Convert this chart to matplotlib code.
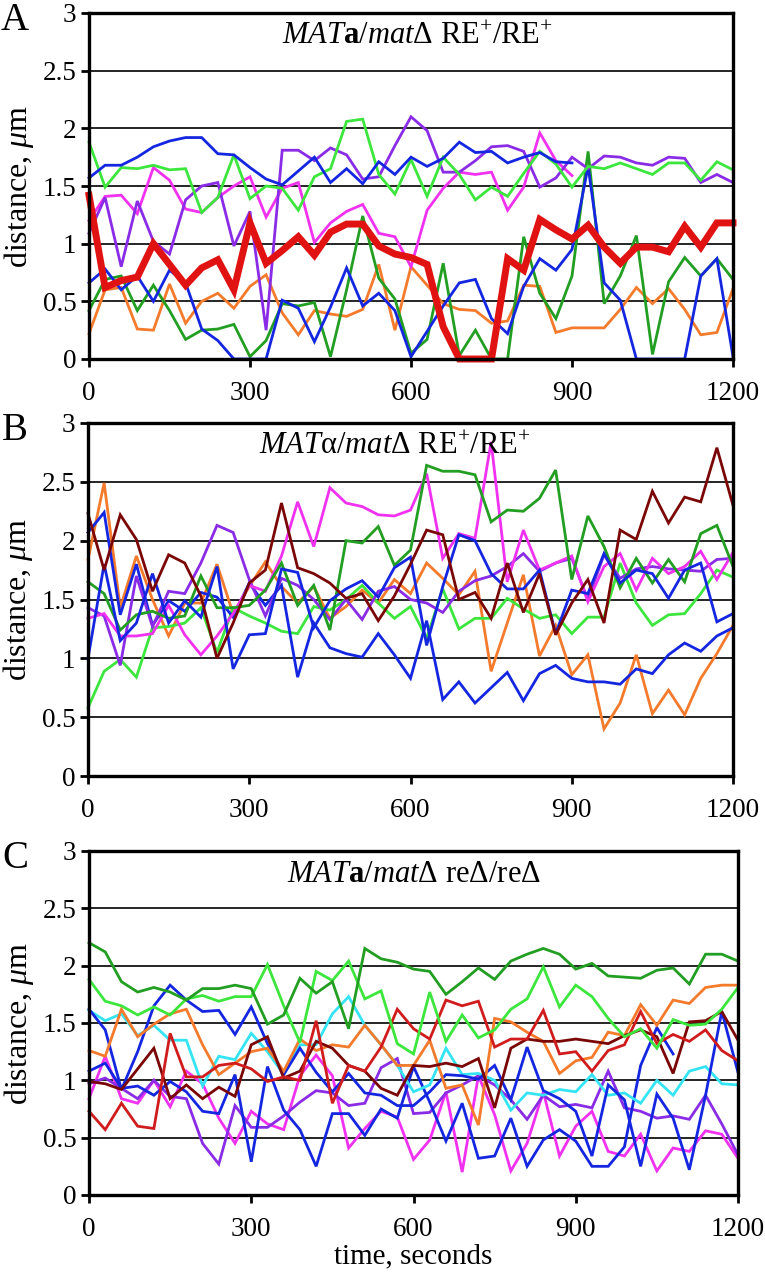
import numpy as np
import matplotlib.pyplot as plt

plt.rcParams['font.family'] = ['Liberation Serif', 'DejaVu Serif']
plt.rcParams['mathtext.fontset'] = 'custom'
plt.rcParams['mathtext.rm'] = 'Liberation Serif'
plt.rcParams['mathtext.it'] = 'Liberation Serif:italic'
plt.rcParams['mathtext.bf'] = 'Liberation Serif:bold'

# --- data: distance (um) sampled every 30 s ---
times = list(range(0, 1201, 30))

# panel A: MATa/matD RE+/RE+
a_blue_hi = [1.57, 1.68, 1.68, 1.75, 1.84, 1.89, 1.92, 1.92, 1.78, 1.77, 1.66, 1.56, 1.51, 1.63, 1.75, 1.53,
             1.65, 1.52, 1.71, 1.60, 1.75, 1.67, 1.74, 1.88, 1.79, 1.80, 1.70, 1.75, 1.79, 1.71, 1.70]
a_lgreen = [1.88, 1.49, 1.66, 1.65, 1.68, 1.64, 1.65, 1.27, 1.40, 1.77, 1.39, 1.50, 1.48, 1.29, 1.58, 1.65,
            2.06, 2.08, 1.60, 1.43, 1.73, 1.41, 1.75, 1.60, 1.38, 1.49, 1.41, 1.61, 1.80, 1.69, 1.49, 1.67,
            1.65, 1.70, 1.65, 1.60, 1.70, 1.70, 1.55, 1.71, 1.64]
a_purple = [1.09, 1.40, 0.80, 1.37, 1.02, 0.91, 1.38, 1.50, 1.53, 0.98, 1.28, 0.25, 1.81, 1.81, 1.72, 1.83,
            1.77, 1.56, 1.58, 1.85, 2.10, 1.98, 1.62, 1.62, 1.72, 1.84, 1.85, 1.80, 1.49, 1.57, 1.75, 1.65,
            1.76, 1.75, 1.70, 1.68, 1.75, 1.74, 1.53, 1.60, 1.53]
a_magenta = [1.20, 1.41, 1.42, 1.26, 1.66, 1.55, 1.30, 1.27, 1.40, 1.50, 1.58, 1.23, 1.48, 1.53, 1.01, 1.18,
             1.28, 1.34, 1.09, 1.06, 0.80, 1.29, 1.48, 1.62, 1.60, 1.62, 1.29, 1.49, 1.96, 1.72, 1.59]
a_red = [1.42, 0.62, 0.68, 0.71, 1.00, 0.82, 0.64, 0.79, 0.86, 0.60, 1.18, 0.83, 0.94, 1.06, 0.90, 1.10,
         1.17, 1.17, 0.98, 0.91, 0.88, 0.82, 0.28, 0.00, 0.00, 0.00, 0.87, 0.77, 1.21, 1.12, 1.04, 1.16,
         0.97, 0.83, 0.97, 0.97, 0.93, 1.15, 0.97, 1.18, 1.18]
a_orange = [0.22, 0.60, 0.62, 0.26, 0.25, 0.65, 0.31, 0.50, 0.57, 0.44, 0.63, 0.73, 0.40, 0.21, 0.42, 0.39,
            0.37, 0.43, 0.82, 0.25, 0.80, 0.64, 0.48, 0.43, 0.42, 0.31, 0.33, 0.64, 0.63, 0.23, 0.27, 0.27,
            0.27, 0.43, 0.62, 0.48, 0.61, 0.43, 0.21, 0.23, 0.61]
a_dgreen = [0.42, 0.69, 0.72, 0.42, 0.64, 0.42, 0.17, 0.25, 0.26, 0.30, 0.02, 0.16, 0.48, 0.46, 0.49, 0.02,
            0.60, 1.24, 0.70, 0.52, 0.05, 0.17, 0.83, 0.03, 0.25, 0.00, 0.00, 1.06, 0.57, 0.35, 0.72, 1.80,
            0.48, 0.72, 1.07, 0.04, 0.67, 0.88, 0.72, 0.87, 0.69]
a_blue_lo = [0.66, 0.78, 0.60, 0.72, 0.50, 0.77, 0.66, 0.26, 0.16, 0.00, 0.00, 0.00, 0.51, 0.44, 0.15, 0.45,
             0.79, 0.46, 0.57, 0.42, 0.02, 0.24, 0.46, 0.66, 0.69, 0.35, 0.22, 0.63, 0.87, 0.77, 0.95, 1.67,
             0.66, 0.51, 0.00, 0.00, 0.00, 0.00, 0.72, 0.87, 0.02]

# panel B: MATalpha/matD RE+/RE+
b_orange = [1.84, 2.49, 1.43, 1.87, 1.50, 1.19, 1.47, 1.47, 1.80, 1.38, 1.61, 1.82, 1.61, 1.47, 1.61, 1.34,
            1.44, 1.58, 1.47, 1.67, 1.55, 1.81, 1.68, 1.54, 1.74, 0.89, 1.30, 1.71, 1.02, 1.28, 0.86, 1.03,
            0.40, 0.62, 1.03, 0.53, 0.73, 0.52, 0.83, 1.04, 1.28]
b_maroon = [2.23, 1.75, 2.22, 2.01, 1.57, 1.88, 1.81, 1.53, 1.00, 1.30, 1.64, 1.75, 2.32, 1.77, 1.72, 1.64,
            1.51, 1.55, 1.32, 1.53, 1.80, 2.09, 2.05, 1.50, 1.56, 1.34, 1.81, 1.39, 1.72, 1.20, 1.47, 1.67,
            1.30, 2.09, 2.01, 2.42, 2.15, 2.37, 2.33, 2.79, 2.30]
b_magenta = [1.34, 1.38, 1.19, 1.19, 1.21, 1.45, 1.20, 1.03, 1.19, 1.38, 1.62, 1.57, 1.87, 2.33, 1.95, 2.45,
             2.32, 2.29, 2.22, 2.21, 2.26, 2.57, 1.85, 2.06, 2.02, 2.84, 1.65, 2.09, 1.75, 1.81, 1.87, 1.48,
             1.78, 1.89, 1.58, 1.85, 1.72, 1.78, 1.91, 1.67, 1.90]
b_purple = [1.43, 1.36, 0.94, 1.70, 1.27, 1.57, 1.55, 1.81, 2.13, 2.07, 1.67, 1.36, 1.68, 1.62, 1.50, 1.33,
            1.50, 1.33, 1.57, 1.61, 1.50, 1.47, 1.39, 1.57, 1.66, 1.70, 1.78, 1.89, 1.74, 1.81, 1.85, 1.50,
            1.88, 1.68, 1.76, 1.78, 1.76, 1.75, 1.74, 1.84, 1.85]
b_dgreen = [1.65, 1.55, 1.24, 1.37, 1.40, 1.34, 1.36, 1.70, 1.43, 1.43, 1.45, 1.58, 1.81, 1.45, 1.62, 1.24,
            2.00, 1.98, 2.12, 1.79, 1.92, 2.64, 2.59, 2.59, 2.56, 2.16, 2.26, 2.25, 2.36, 2.60, 1.67, 2.21,
            1.95, 1.60, 1.85, 1.64, 1.84, 1.65, 2.06, 2.13, 1.78]
b_lgreen = [0.58, 0.89, 0.99, 0.84, 1.26, 1.27, 1.30, 1.43, 1.05, 1.43, 1.36, 1.30, 1.23, 1.21, 1.44, 1.41,
            1.50, 1.62, 1.47, 1.34, 1.44, 1.17, 1.59, 1.25, 1.34, 1.34, 1.51, 1.42, 1.34, 1.37, 1.21, 1.35,
            1.35, 1.81, 1.47, 1.28, 1.37, 1.38, 1.55, 1.75, 1.69]
b_blue_hi = [1.00, 1.80, 1.15, 1.30, 1.72, 1.30, 1.49, 1.35, 1.78, 0.91, 1.20, 1.21, 1.76, 1.73, 1.26, 1.49,
             1.59, 1.66, 1.52, 1.77, 1.86, 1.11, 1.61, 2.05, 2.00, 1.72, 1.59, 1.59, 1.75, 1.21, 1.58, 1.55,
             1.89, 1.64, 1.75, 1.72, 1.51, 1.75, 1.81, 1.31, 1.38]
b_blue_lo = [2.07, 2.24, 1.37, 1.80, 1.28, 1.49, 1.40, 1.56, 1.52, 1.35, 1.64, 1.45, 1.62, 0.84, 1.30, 1.09,
             1.04, 1.01, 1.21, 1.03, 0.83, 1.32, 0.65, 0.80, 0.62, 0.75, 0.88, 0.64, 0.87, 0.94, 0.83, 0.80,
             0.80, 0.78, 0.91, 0.87, 1.03, 1.13, 1.06, 1.19, 1.26]

# panel C: MATa/matD reD/reD
c_dgreen = [2.20, 2.12, 1.86, 1.77, 1.81, 1.77, 1.70, 1.80, 1.80, 1.83, 1.80, 1.49, 1.57, 1.89, 1.76, 1.86,
            1.45, 2.15, 2.06, 2.03, 1.97, 1.95, 1.75, 1.86, 1.98, 1.88, 2.04, 2.10, 2.15, 2.10, 1.97, 2.02,
            1.91, 1.90, 1.89, 1.96, 1.98, 1.84, 2.10, 2.10, 2.04]
c_lgreen = [1.88, 1.69, 1.65, 1.57, 1.64, 1.57, 1.71, 1.74, 1.69, 1.73, 1.73, 2.01, 1.65, 1.33, 1.95, 1.87,
            2.04, 1.71, 1.78, 1.32, 1.23, 1.77, 1.34, 1.57, 1.37, 1.44, 1.62, 1.71, 1.99, 1.64, 1.83, 1.73,
            1.54, 1.38, 1.45, 1.28, 1.53, 1.48, 1.49, 1.62, 1.81]
c_orange = [1.26, 1.21, 1.62, 1.38, 1.49, 1.58, 1.62, 1.31, 1.05, 1.15, 1.25, 1.28, 1.08, 1.36, 1.26, 1.31,
            1.29, 1.48, 1.31, 1.13, 1.13, 1.35, 0.93, 0.96, 0.61, 1.54, 1.51, 1.42, 1.34, 1.06, 1.17, 1.20,
            1.42, 1.39, 1.66, 1.48, 1.70, 1.67, 1.81, 1.83, 1.83]
c_cyan = [1.61, 1.52, 1.58, 1.39, 1.48, 1.35, 1.35, 0.95, 1.21, 1.18, 1.41, 1.25, 1.05, 1.31, 1.31, 1.58,
          1.73, 1.48, 1.31, 1.13, 0.90, 0.96, 1.28, 1.05, 1.06, 1.00, 0.74, 0.89, 0.87, 0.92, 0.90, 1.05,
          0.87, 0.89, 0.80, 1.00, 0.87, 1.08, 1.12, 0.97, 0.96]
c_maroon = [0.99, 0.97, 0.92, 1.10, 1.28, 0.84, 0.96, 0.84, 0.94, 0.86, 1.31, 1.38, 1.02, 1.08, 1.34, 1.28,
            1.13, 1.08, 0.93, 0.87, 1.13, 1.12, 1.15, 1.12, 1.19, 0.76, 1.28, 1.36, 1.34, 1.34, 1.36, 1.34,
            1.32, 1.39, 1.44, 1.38, 1.06, 1.51, 1.52, 1.60, 1.35]
c_red = [0.73, 0.57, 0.80, 0.60, 0.58, 1.41, 1.03, 1.03, 1.13, 1.15, 1.10, 0.99, 1.03, 1.00, 1.52, 0.80,
         1.13, 1.08, 1.29, 1.62, 1.45, 1.36, 1.70, 1.65, 1.69, 1.29, 1.36, 1.36, 1.61, 1.23, 1.25, 1.08,
         1.26, 1.31, 1.60, 1.32, 1.40, 1.34, 1.44, 1.26, 1.17]
c_magenta = [0.84, 1.21, 0.84, 0.80, 1.00, 0.77, 1.08, 0.97, 0.67, 0.45, 0.73, 0.62, 0.57, 1.04, 1.22, 1.04,
             0.41, 0.58, 0.73, 0.68, 0.31, 0.48, 0.90, 0.20, 1.04, 0.70, 0.21, 0.45, 0.90, 0.34, 0.60, 0.73,
             0.38, 0.34, 0.53, 0.21, 0.41, 0.38, 0.56, 0.53, 0.32]
c_purple = [0.97, 1.02, 0.93, 0.84, 1.00, 0.86, 0.84, 0.45, 0.27, 0.78, 0.59, 0.59, 0.69, 0.81, 0.91, 0.89,
            0.78, 0.80, 1.11, 1.19, 0.71, 0.72, 0.89, 0.96, 1.04, 0.96, 0.83, 0.66, 0.87, 0.77, 0.79, 0.76,
            1.08, 0.76, 0.73, 0.67, 0.69, 0.66, 0.87, 0.62, 0.35]
c_blue_a = [1.62, 1.44, 0.92, 1.25, 1.65, 1.83, 1.70, 1.60, 1.61, 1.40, 1.64, 1.32, 1.05, 1.28, 1.07, 0.90,
            1.06, 0.89, 0.87, 0.78, 0.78, 0.90, 1.05, 1.04, 1.01, 1.13, 0.83, 1.29, 0.91, 0.84, 0.73, 0.34,
            0.96, 0.83, 0.25, 0.88, 0.67, 0.22, 0.87, 1.60, 1.07]
c_blue_b = [1.08, 1.15, 0.93, 0.95, 0.87, 0.99, 0.90, 0.73, 0.71, 1.05, 0.29, 1.12, 0.74, 0.57, 0.25, 0.71,
            0.71, 0.52, 0.75, 0.67, 1.12, 0.81, 0.47, 0.80, 0.32, 0.34, 0.67, 0.25, 0.48, 0.57, 0.47, 0.25,
            0.25, 0.42, 1.13, 1.46, 1.23]

BLUE = '#1426e0'
LGREEN = '#3ce63c'
DGREEN = '#229e22'
PURPLE = '#8a2be6'
MAGENTA = '#f032f0'
RED = '#e01212'
ORANGE = '#f47a2c'
MAROON = '#7a0606'
CYAN = '#35e4f2'
CRED = '#d01c1c'

LW = 2.0
panels = [
    ('A', r'$\mathit{MAT}\mathbf{a}$/$\mathit{mat}$Δ RE$^{+}$/RE$^{+}$', 0.51,
     [(a_orange, ORANGE, LW), (a_dgreen, DGREEN, LW), (a_blue_lo, BLUE, LW), (a_magenta, MAGENTA, LW),
      (a_purple, PURPLE, LW), (a_lgreen, LGREEN, LW), (a_blue_hi, BLUE, LW), (a_red, RED, 5.0)]),
    ('B', r'$\mathit{MAT}$α/$\mathit{mat}$Δ RE$^{+}$/RE$^{+}$', 0.475,
     [(b_orange, ORANGE, LW), (b_lgreen, LGREEN, LW), (b_blue_lo, BLUE, LW), (b_purple, PURPLE, LW),
      (b_magenta, MAGENTA, LW), (b_dgreen, DGREEN, LW), (b_blue_hi, BLUE, LW), (b_maroon, MAROON, LW)]),
    ('C', r'$\mathit{MAT}\mathbf{a}$/$\mathit{mat}$Δ reΔ/reΔ', 0.5,
     [(c_magenta, MAGENTA, LW), (c_purple, PURPLE, LW), (c_blue_b, BLUE, LW), (c_cyan, CYAN, LW),
      (c_blue_a, BLUE, LW), (c_orange, ORANGE, LW), (c_maroon, MAROON, LW), (c_red, CRED, LW),
      (c_lgreen, LGREEN, LW), (c_dgreen, DGREEN, LW)]),
]

fig = plt.figure(figsize=(7.65, 12.8), dpi=100)
# axes boxes in pixels: (left, top, right, bottom)
boxes = [(89, 13, 733, 359), (88, 423, 733, 776), (89, 851, 738, 1195)]
W, H = 765, 1280

for (letter, title, tx, series), (l, t, r, b) in zip(panels, boxes):
    ax = fig.add_axes([l / W, 1 - b / H, (r - l) / W, (b - t) / H])
    for vals, col, lw in series:
        ax.plot(times[:len(vals)], vals, color=col, lw=lw, solid_joinstyle='miter', clip_on=False, zorder=3)
    ax.set_xlim(0, 1200)
    ax.set_ylim(0, 3)
    ax.set_xticks([0, 300, 600, 900, 1200])
    ax.set_yticks([0, 0.5, 1, 1.5, 2, 2.5, 3])
    ax.set_yticklabels(['0', '0.5', '1', '1.5', '2', '2.5', '3'])
    ax.set_axisbelow(True)
    ax.yaxis.grid(True, color='black', lw=1.2)
    for s in ax.spines.values():
        s.set_linewidth(2.4)
        s.set_zorder(4)
    ax.tick_params(axis='both', labelsize=19.5, width=2, direction='out')
    ax.tick_params(axis='x', length=6, pad=10)
    ax.tick_params(axis='y', length=6, pad=3)
    ax.set_ylabel(r'distance, $\mathit{\mu}$m', fontsize=23, va='center')
    ax.yaxis.set_label_coords(-0.108, 0.5)
    ax.text(tx, 0.975, title, transform=ax.transAxes, ha='center', va='top', fontsize=22)
    fig.text(15 / W, 1 - (t + 7) / H, letter, fontsize=28, ha='center', va='center')

ax.set_xlabel('time, seconds', fontsize=21, labelpad=1)

fig.savefig('out.png', dpi=100)
